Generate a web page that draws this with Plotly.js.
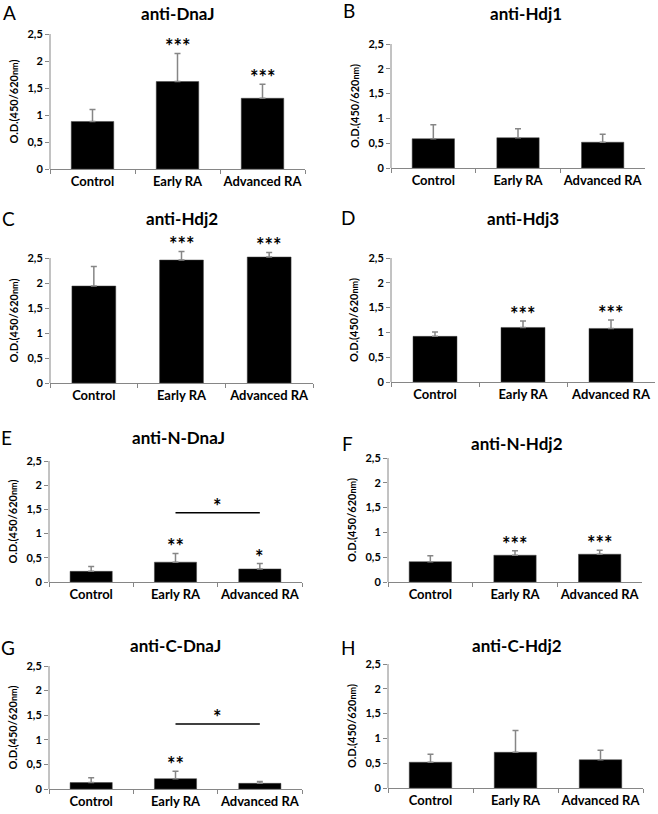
<!DOCTYPE html>
<html>
<head>
<meta charset="utf-8">
<script src="https://cdn.plot.ly/plotly-3.0.1.min.js"></script>
<style>
  body { margin: 0; background: #fff; }
  #graph { width: 658px; height: 814px; }
</style>
</head>
<body>
<div id="graph"></div>
<script>
const groups = ["Control", "Early RA", "Advanced RA"];
const panelLetters = ["A", "B", "C", "D", "E", "F", "G", "H"];
const panelTitles = ["anti-DnaJ", "anti-Hdj1", "anti-Hdj2", "anti-Hdj3",
  "anti-N-DnaJ", "anti-N-Hdj2", "anti-C-DnaJ", "anti-C-Hdj2"];

const meanDnaJ = [0.88, 1.62, 1.31];
const sdDnaJ = [0.22, 0.52, 0.26];
const starsDnaJ = ["", "***", "***"];

const meanHdj1 = [0.59, 0.61, 0.52];
const sdHdj1 = [0.28, 0.18, 0.16];
const starsHdj1 = ["", "", ""];

const meanHdj2 = [1.94, 2.46, 2.52];
const sdHdj2 = [0.39, 0.17, 0.09];
const starsHdj2 = ["", "***", "***"];

const meanHdj3 = [0.92, 1.10, 1.08];
const sdHdj3 = [0.09, 0.13, 0.17];
const starsHdj3 = ["", "***", "***"];

const meanNDnaJ = [0.22, 0.41, 0.27];
const sdNDnaJ = [0.10, 0.18, 0.11];
const starsNDnaJ = ["", "**", "*"];

const meanNHdj2 = [0.41, 0.54, 0.56];
const sdNHdj2 = [0.12, 0.09, 0.08];
const starsNHdj2 = ["", "***", "***"];

const meanCDnaJ = [0.13, 0.21, 0.115];
const sdCDnaJ = [0.10, 0.15, 0.035];
const starsCDnaJ = ["", "**", ""];

const meanCHdj2 = [0.52, 0.72, 0.57];
const sdCHdj2 = [0.16, 0.44, 0.19];
const starsCHdj2 = ["", "", ""];

// Early RA vs Advanced RA comparison lines (panel index, height, label)
const bracketPanel = [4, 6];
const bracketY = [1.43, 1.32];
const bracketLabel = ["*", "*"];

const yTickVals = [0, 0.5, 1, 1.5, 2, 2.5];
const yTickText = ["0", "0,5", "1", "1,5", "2", "2,5"];
const yAxisTop = 2.5;
const yRangeTop = 2.9; // headroom so stars / error bars above 2,5 still show

const means = [meanDnaJ, meanHdj1, meanHdj2, meanHdj3, meanNDnaJ, meanNHdj2, meanCDnaJ, meanCHdj2];
const sds = [sdDnaJ, sdHdj1, sdHdj2, sdHdj3, sdNDnaJ, sdNHdj2, sdCDnaJ, sdCHdj2];
const stars = [starsDnaJ, starsHdj1, starsHdj2, starsHdj3, starsNDnaJ, starsNHdj2, starsCDnaJ, starsCHdj2];

// plot boxes in page pixels: [left, right, top of 2,5, bottom]
const W = 658, H = 814;
const boxes = [
  [50, 305, 34, 169], [391, 645, 44, 168],
  [50, 313, 258, 383], [391, 655, 258, 382],
  [49, 302, 461, 582], [388, 642, 458, 582],
  [49, 302, 666, 789], [388, 643, 664, 788],
];
const titlePos = [[178, 13], [526, 13], [182, 218], [523, 218],
  [178, 437], [517, 443], [175, 645], [517, 645]];
const letterPos = [[9, 12], [349, 10], [8, 218], [348, 217],
  [6, 437], [347, 443], [8, 647], [349, 647]];

const font = "Lato, 'Open Sans', sans-serif";
const grey = "#868686";
const starFont = { family: font, size: 20, weight: "bold", color: "#000" };

const data = [];
const annotations = [];
const shapes = [];
const layout = {
  width: W,
  height: H,
  margin: { l: 0, r: 0, t: 0, b: 0 },
  paper_bgcolor: "#fff",
  plot_bgcolor: "#fff",
  showlegend: false,
  font: { family: font, color: "#000" },
  annotations: annotations,
  shapes: shapes,
};

means.forEach((m, i) => {
  const n = i === 0 ? "" : String(i + 1);
  const [l, r, t, b] = boxes[i];
  const topPx = t - (yRangeTop - yAxisTop) / yAxisTop * (b - t);
  data.push({
    type: "bar",
    x: groups,
    y: m,
    xaxis: "x" + n,
    yaxis: "y" + n,
    width: 0.5,
    marker: { color: "#000", line: { color: "#444", width: 0.5 } },
    error_y: {
      type: "data",
      symmetric: false,
      array: sds[i],
      arrayminus: sds[i].map(() => 0),
      color: grey,
      thickness: 1.5,
      width: 3,
    },
    hoverinfo: "none",
  });
  layout["xaxis" + n] = {
    domain: [l / W, r / W],
    anchor: "y" + n,
    type: "category",
    range: [-0.5, 2.5],
    showline: true,
    linecolor: grey,
    linewidth: 1,
    ticks: "outside",
    tickson: "boundaries",
    ticklen: 4,
    tickcolor: grey,
    tickangle: 0,
    showgrid: false,
    zeroline: false,
    tickfont: { family: font, size: 13, weight: "bold", color: "#000" },
    fixedrange: true,
  };
  layout["yaxis" + n] = {
    domain: [1 - b / H, 1 - topPx / H],
    anchor: "x" + n,
    range: [0, yRangeTop],
    tickvals: yTickVals,
    ticktext: yTickText,
    showline: false,
    ticks: "outside",
    ticklen: 4,
    tickcolor: grey,
    showgrid: false,
    zeroline: false,
    tickfont: { family: font, size: 11, weight: "bold", color: "#000" },
    fixedrange: true,
  };
  // y axis line only up to 2,5
  shapes.push({
    type: "line",
    xref: "x" + n + " domain", yref: "y" + n,
    x0: 0, x1: 0, y0: 0, y1: yAxisTop,
    line: { color: grey, width: 1 },
  });

  // significance stars above the error bars
  stars[i].forEach((s, j) => {
    if (!s) return;
    annotations.push({
      xref: "x" + n, yref: "y" + n,
      x: groups[j], y: m[j] + sds[i][j],
      xanchor: "center", yanchor: "bottom",
      yshift: -7,
      text: s, showarrow: false,
      font: starFont,
    });
  });

  annotations.push({
    xref: "paper", yref: "paper",
    x: titlePos[i][0] / W, y: 1 - titlePos[i][1] / H,
    xanchor: "center", yanchor: "middle",
    text: panelTitles[i], showarrow: false,
    font: { family: font, size: 17, weight: "bold" },
  });
  annotations.push({
    xref: "paper", yref: "paper",
    x: letterPos[i][0] / W, y: 1 - letterPos[i][1] / H,
    xanchor: "center", yanchor: "middle",
    text: panelLetters[i], showarrow: false,
    font: { family: font, size: 19 },
  });
  annotations.push({
    xref: "paper", yref: "paper",
    x: (l - 37) / W, y: 1 - (t + b) / 2 / H,
    xanchor: "center", yanchor: "middle",
    textangle: -90,
    text: "O.D.(450/620<span style='font-size:9px'>nm</span>)", showarrow: false,
    font: { family: font, size: 11, weight: "bold" },
  });
});

bracketPanel.forEach((p, k) => {
  const n = String(p + 1);
  shapes.push({
    type: "line",
    xref: "x" + n, yref: "y" + n,
    x0: 1, x1: 2,
    y0: bracketY[k], y1: bracketY[k],
    line: { color: "#000", width: 1.5 },
  });
  annotations.push({
    xref: "x" + n, yref: "y" + n,
    x: 1.5, y: bracketY[k],
    xanchor: "center", yanchor: "bottom",
    yshift: -7,
    text: bracketLabel[k], showarrow: false,
    font: starFont,
  });
});

Plotly.newPlot("graph", data, layout, { displayModeBar: false, staticPlot: true });
</script>
</body>
</html>
